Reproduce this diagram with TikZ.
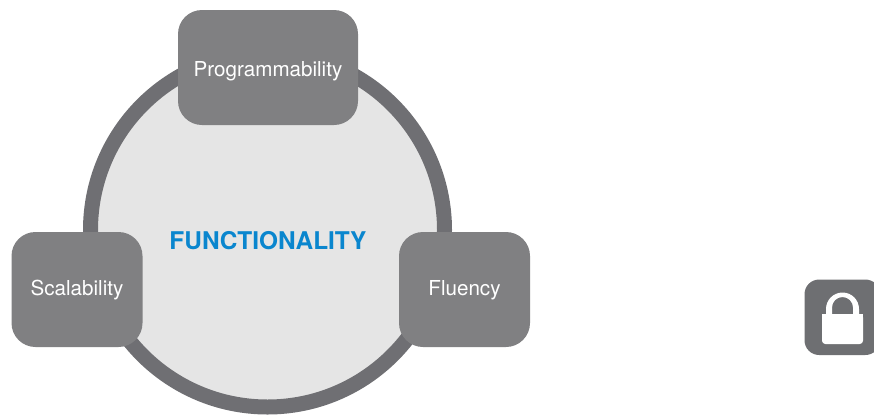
\documentclass[tikz,border=0pt]{standalone}
\usepackage{fontspec}
\setmainfont{TeX Gyre Heros}
\definecolor{ringgray}{HTML}{6F6F73}
\definecolor{boxgray}{HTML}{808082}
\definecolor{fillgray}{HTML}{E5E5E5}
\definecolor{titleblue}{HTML}{0A86CE}
\definecolor{lockgray}{HTML}{6E6F72}
\tikzset{
  px/.style={x=0.75pt,y=-0.75pt},
  ring/.style={circle,draw=ringgray,fill=fillgray,line width=11.25pt,minimum size=265.5pt,inner sep=0pt},
  cardbox/.style={rectangle,rounded corners=18pt,fill=boxgray,text=white,font=\fontsize{15.45pt}{17pt}\selectfont,inner sep=0pt,minimum height=86.25pt,text depth=0pt},
  title/.style={text=titleblue,font=\fontsize{18.3pt}{20pt}\selectfont\bfseries,inner sep=0pt}
}
\begin{document}
\begin{tikzpicture}[px]
\useasboundingbox (0,0) rectangle (874,415);
\clip (0,0) rectangle (874,415);
\node[ring] (circle) at (267.5,230) {};
\node[title] (func) at (268,240.7) {FUNCTIONALITY};
\node[cardbox,minimum width=135pt,text height=12.8pt] (prog) at (268,67.5) {Programmability};
\node[cardbox,minimum width=98.25pt,text height=9.4pt] (scal) at (77,289.5) {Scalability};
\node[cardbox,minimum width=98.25pt,text height=9.4pt] (flu) at (464.5,289.5) {Fluency};
\fill[lockgray,rounded corners=11pt] (804.5,279.5) rectangle (880,355);
\fill[white,rounded corners=2.5pt] (822,314) rectangle (863,344);
\fill[white,even odd rule] (826,318) -- (826,309) arc[start angle=180,end angle=360,radius=16.5] -- (859,318) -- cycle
  (832,318) -- (832,307.5) arc[start angle=180,end angle=360,radius=10.5] -- (853,318) -- cycle;
\fill[white] (822,314) rectangle (863,320);
\end{tikzpicture}
\end{document}
